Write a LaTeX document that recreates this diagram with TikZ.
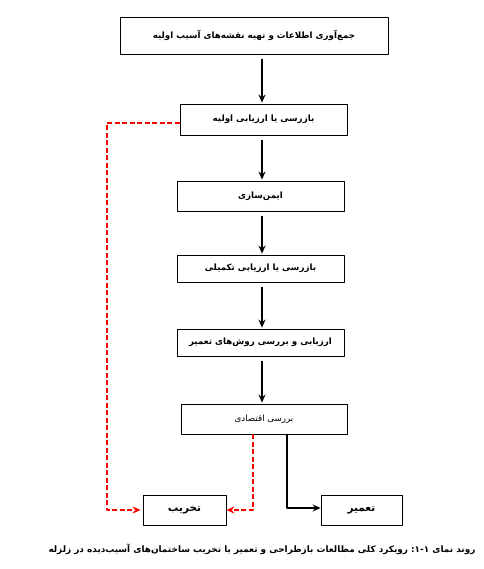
\documentclass[tikz,border=0pt]{standalone}
\usepackage{fontspec}
\usetikzlibrary{arrows.meta}
\newfontfamily\arabicfont[Script=Arabic]{DejaVu Sans}
\TeXXeTstate=1
\begin{document}
\begin{tikzpicture}[x=1pt, y=-1pt, line cap=round, line join=round, font=\arabicfont\fontsize{8.5}{10}\selectfont, >={Stealth[length=8pt,width=7pt]}]
			\tikzset{box style/.style={draw, line width=0.8pt, minimum width=167pt, minimum height=30pt, inner sep=0pt, font=\arabicfont\bfseries\fontsize{8.7}{10}\selectfont},
				flow arrow/.style={->, line width=1.3pt, shorten <=5pt, shorten >=1pt},
				red arrow/.style={->, red, line width=1.3pt, line cap=butt, dash pattern=on 5pt off 2.5pt}}
			\useasboundingbox (0,0) rectangle (483,569);
			\node[box style, minimum width=268pt, minimum height=37pt] (collect) at (254,35.5) {\beginR جمع‌آوری اطلاعات و تهیه نقشه‌های آسیب اولیه\endR};
			\node[box style, minimum height=31pt] (initial) at (263.5,119.5) {\beginR بازرسی یا ارزیابی اولیه\endR};
			\node[box style] (safety) at (260.5,196) {\beginR ایمن‌سازی\endR};
			\node[box style, minimum height=27pt] (detail) at (260.5,268.5) {\beginR بازرسی یا ارزیابی تکمیلی\endR};
			\node[box style, minimum height=27pt] (methods) at (260.5,342.5) {\beginR ارزیابی و بررسی روش‌های تعمیر\endR};
			\node[box style, minimum width=166pt, font=\arabicfont\fontsize{8.7}{10}\selectfont] (economy) at (264,419) {\beginR بررسی اقتصادی\endR};
			\node[box style, minimum width=83pt, font=\arabicfont\bfseries\fontsize{10.5}{12}\selectfont] (demolish) at (184.5,510) {\beginR تخریب\endR};
			\node[box style, minimum width=81pt, font=\arabicfont\bfseries\fontsize{10.5}{12}\selectfont] (repair) at (361.5,510) {\beginR تعمیر\endR};
			\coordinate (axis) at (262,0);
			\coordinate (redleft) at (107,0);
			\draw[flow arrow] (collect.south -| axis) -- (initial.north -| axis);
			\draw[flow arrow] (initial.south -| axis) -- (safety.north -| axis);
			\draw[flow arrow] (safety.south -| axis) -- (detail.north -| axis);
			\draw[flow arrow] (detail.south -| axis) -- (methods.north -| axis);
			\draw[flow arrow] (methods.south -| axis) -- (economy.north -| axis);
			\draw[red arrow, shorten >=2pt] ([yshift=-3.5pt]initial.west) -- ([yshift=-3.5pt]initial.west -| redleft) |- (demolish.west);
			\draw[red arrow] ([xshift=-11pt]economy.south) |- (demolish.east);
			\draw[->, line width=1.3pt] ([xshift=23pt]economy.south) |- ([yshift=2pt]repair.west);
			\node[font=\arabicfont\bfseries\fontsize{8.9}{10}\selectfont] (caption) at (262,549) {\beginR روند نمای ۱-۱\mbox{:} رویکرد کلی مطالعات بازطراحی و تعمیر یا تخریب ساختمان‌های آسیب‌دیده در زلزله\endR};
		\end{tikzpicture}
\end{document}
